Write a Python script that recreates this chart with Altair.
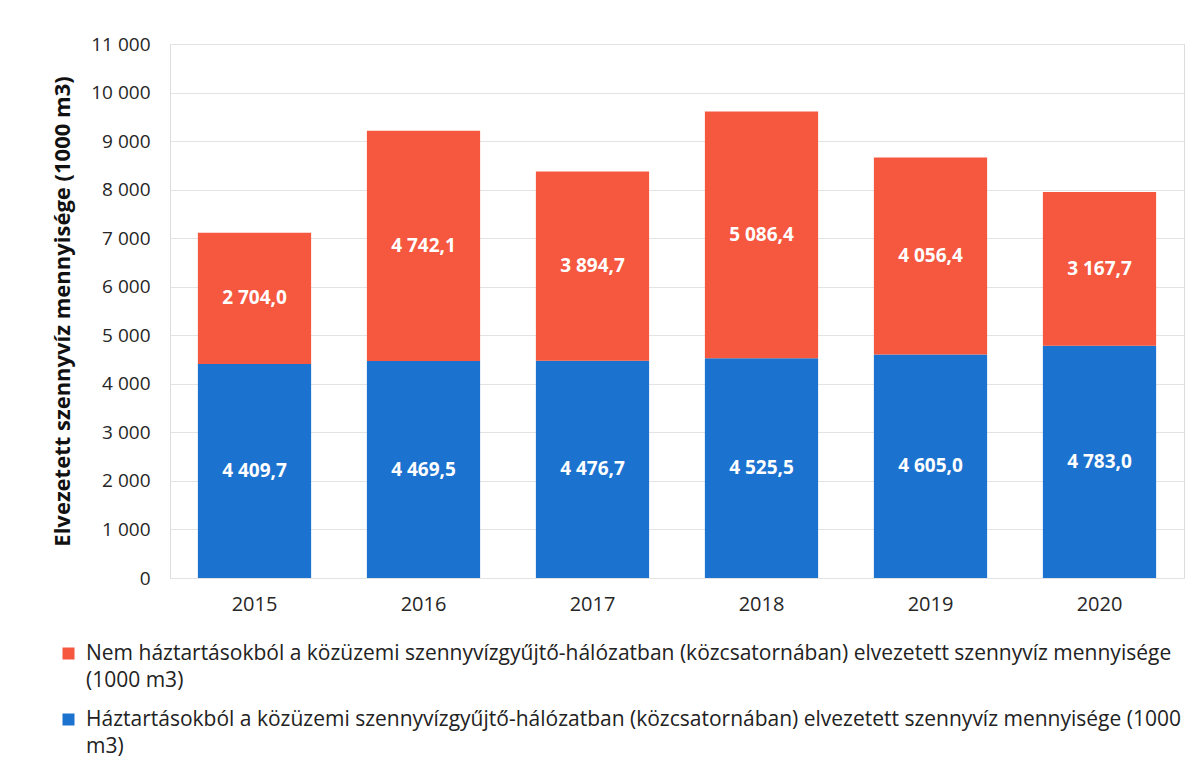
import json
import altair as alt
import pandas as pd

years = ["2015", "2016", "2017", "2018", "2019", "2020"]
household = [4409.7, 4469.5, 4476.7, 4525.5, 4605.0, 4783.0]
non_household = [2704.0, 4742.1, 3894.7, 5086.4, 4056.4, 3167.7]

RED = "Nem háztartásokból a közüzemi szennyvízgyűjtő-hálózatban (közcsatornában) elvezetett szennyvíz mennyisége (1000 m3)"
BLUE = "Háztartásokból a közüzemi szennyvízgyűjtő-hálózatban (közcsatornában) elvezetett szennyvíz mennyisége (1000 m3)"
red_lines = ["Nem háztartásokból a közüzemi szennyvízgyűjtő-hálózatban (közcsatornában) elvezetett szennyvíz mennyisége", "(1000 m3)"]
blue_lines = ["Háztartásokból a közüzemi szennyvízgyűjtő-hálózatban (közcsatornában) elvezetett szennyvíz mennyisége (1000", "m3)"]
y_ticks = list(range(0, 11001, 1000))

rows = []
for y, h, n in zip(years, household, non_household):
    rows.append({"year": y, "series": BLUE, "value": h, "ord": 0})
    rows.append({"year": y, "series": RED, "value": n, "ord": 1})
df = pd.DataFrame(rows)

FONT = "Open Sans"
label_expr = f"datum.label == {json.dumps(RED)} ? {json.dumps(red_lines, ensure_ascii=False)} : {json.dumps(blue_lines, ensure_ascii=False)}"

base = alt.Chart(df).transform_stack(
    stack="value", groupby=["year"], sort=[alt.SortField("ord", order="ascending")], as_=["v0", "v1"]
).transform_calculate(
    mid="(datum.v0 + datum.v1) / 2",
    txt="replace(replace(format(datum.value, ',.1f'), ',', ' '), '.', ',')",
)

x = alt.X("year:N", title=None, sort=years,
          scale=alt.Scale(paddingInner=0.33, paddingOuter=0.165),
          axis=alt.Axis(labelAngle=0, domain=False, ticks=False, labelPadding=16,
                        labelFont=FONT, labelFontSize=20, labelColor="#262626"))

bars = base.mark_bar().encode(
    x=x,
    y=alt.Y("v0:Q", title="Elvezetett szennyvíz mennyisége (1000 m3)",
            scale=alt.Scale(domain=[0, 11000], nice=False),
            axis=alt.Axis(values=y_ticks, domain=False, ticks=False, labelPadding=20,
                          labelExpr="replace(format(datum.value, ','), ',', ' ')",
                          labelFont=FONT, labelFontSize=19, labelColor="#262626",
                          titleFont=FONT, titleFontSize=22, titleFontWeight="bold",
                          titleColor="#111111", titlePadding=16,
                          gridColor="#e3e3e3", gridWidth=1)),
    y2="v1:Q",
    color=alt.Color("series:N", scale=alt.Scale(domain=[RED, BLUE], range=["#F5573F", "#1C72CF"]),
                    legend=alt.Legend(title=None, orient="none", legendX=-112, legendY=599,
                                      direction="vertical", symbolType="square", symbolSize=144,
                                      symbolStrokeWidth=0, labelFont=FONT, labelFontSize=21,
                                      labelColor="#222222", labelLimit=3000, labelOffset=7,
                                      labelExpr=label_expr, rowPadding=17,
                                      labelBaseline="middle",
                                      )),
)

labels = base.mark_text(font=FONT, fontSize=19, fontWeight="bold", color="white").encode(
    x=alt.X("year:N", sort=years),
    y=alt.Y("mid:Q"),
    text="txt:N",
)

chart = alt.layer(bars, labels).properties(
    width=1014, height=534,
    autosize=alt.AutoSizeParams(type="none"),
    padding={"left": 162, "top": 36, "right": 10, "bottom": 190},
).configure_view(stroke=None).configure(
    background="white",
    style={"guide-label": {"lineHeight": 27}},
)

chart.save("out.html", embed_options={"renderer": "svg", "actions": False})
